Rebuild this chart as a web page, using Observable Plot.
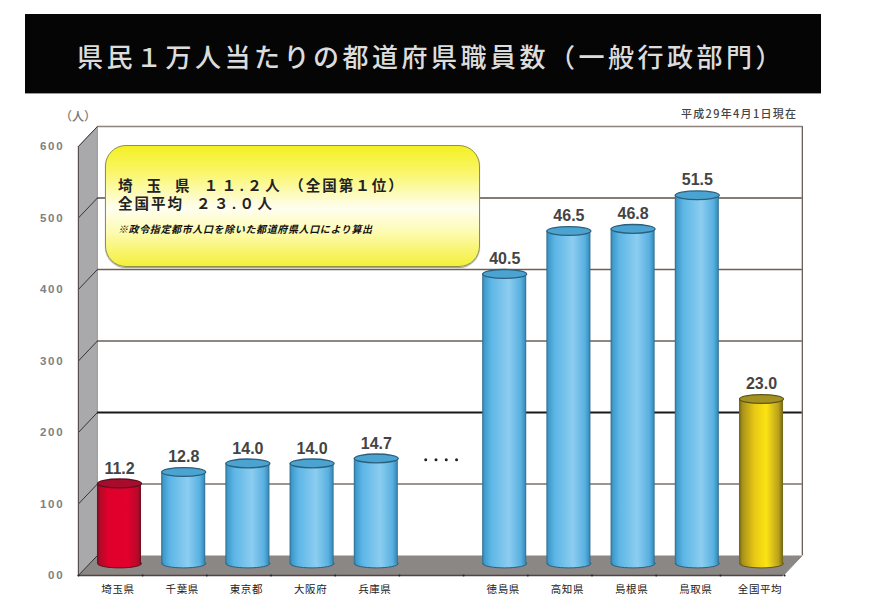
<!DOCTYPE html>
<html><head><meta charset="utf-8">
<script src="https://cdn.jsdelivr.net/npm/d3@7"></script>
<script src="https://cdn.jsdelivr.net/npm/@observablehq/plot@0.6"></script>
<style>
html,body{margin:0;padding:0;background:#fff;width:870px;height:612px;overflow:hidden;position:relative}
#title{position:absolute;left:25px;top:14px;width:796px;height:80px;background:#050505;border-bottom:1px solid #999;box-sizing:border-box;color:#dcdcdc;
 font:500 26px "Noto Sans CJK JP";letter-spacing:3.5px;padding-left:52px;line-height:84px;white-space:nowrap}
#chart{position:absolute;left:0;top:94px}
#note{position:absolute;left:105px;top:145px;width:375px;height:122px;box-sizing:border-box;border:1.5px solid #8f8f4a;border-radius:21px;
 background:linear-gradient(180deg,#f4f023 0%,#faf66a 22%,#fffef0 52%,#fdfbb0 72%,#f4ef3a 100%);box-shadow:0 1px 1px #999;font-family:"Noto Sans CJK JP";color:#222}
#note div{position:absolute;left:12px;white-space:pre}
.a{font-family:"Liberation Sans","Noto Sans CJK JP";font-weight:700;font-size:14.5px;letter-spacing:2px;line-height:18px}
.a span{letter-spacing:3.5px}
.b{font-weight:700;font-style:italic;font-size:10px;letter-spacing:.62px;color:#111}
#date{position:absolute;left:681px;top:105px;font:500 11px "Noto Sans CJK JP";letter-spacing:1.3px;color:#444;white-space:nowrap}
#unit{position:absolute;left:60px;top:107px;font:500 12px "Noto Sans CJK JP";color:#777}
text{font-family:"Liberation Sans"}
g[aria-label="y-axis tick label"] text{letter-spacing:1.8px;font-weight:700}
g[aria-label="x-axis tick label"] text{font-family:"Noto Sans CJK JP";letter-spacing:.6px}
</style></head><body>
<div id="title">県民１万人当たりの都道府県職員数（一般行政部門）</div>
<div id="chart"></div>
<div id="unit">（人）</div>
<div id="date">平成29年4月1日現在</div>
<div id="note">
<div class="a" style="top:31px">埼  玉  県  <span>１１.２人</span> （全国第１位）</div>
<div class="a" style="top:49px">全国平均  <span>２３.０人</span></div>
<div class="b" style="top:75px">※政令指定都市人口を除いた都道府県人口により算出</div>
</div>
<script>
const prefectures = ["埼玉県","千葉県","東京都","大阪府","兵庫県","徳島県","高知県","島根県","鳥取県","全国平均"];
const values      = [11.2,12.8,14.0,14.0,14.7,40.5,46.5,46.8,51.5,23.0];
const valueLabels = ["11.2","12.8","14.0","14.0","14.7","40.5","46.5","46.8","51.5","23.0"];
const slots       = [0,1,2,3,4,6,7,8,9,10];
const groups      = ["red","blue","blue","blue","blue","blue","blue","blue","blue","gold"];
const yTicks      = [0,10,20,30,40,50,60];
const ellipsisSlots = [4.77,4.93,5.09,5.25];
const gridStroke  = {10:"#7d7069",20:"#1c1816",30:"#6b5f58",40:"#6b5f58",50:"#5d514b",60:"#8d827c"};

const rows = prefectures.map((name,i)=>({name,value:values[i],label:valueLabels[i],slot:slots[i],group:groups[i]}));
const xL=-0.64, xR=10.34, depthX=0.296, depthY=2.8, topV=60;
const half=0.343, lift=-12;

const palettes = {
  blue:{stops:[["0%","#2d6a8a"],["5%","#3f9bcc"],["20%","#5db6e6"],["60%","#8ccdf0"],["88%","#58b0e0"],["96%","#3d93c2"],["100%","#2d6a8a"]],top:"#4aa3d0",edge:"#2b5f7c"},
  red:{stops:[["0%","#6a1020"],["6%","#b00a28"],["25%","#e0002c"],["70%","#e2002c"],["93%","#b50a2a"],["100%","#6a1020"]],top:"#a80c2c",edge:"#5e1020"},
  gold:{stops:[["0%","#6f6418"],["8%","#a8921a"],["35%","#e8c814"],["62%","#fbe414"],["90%","#b8a01c"],["100%","#6f6418"]],top:"#a39222",edge:"#5f5618"}
};
function defs(){
  const d=d3.create("svg:defs");
  for(const [k,p] of Object.entries(palettes)){
    const g=d.append("linearGradient").attr("id","cyl-"+k);
    p.stops.forEach(([o,c])=>g.append("stop").attr("offset",o).attr("stop-color",c));
  }
  return d.node();
}
const lens = {draw(ctx,size){
  const rx=Math.sqrt(size/Math.PI), ry=rx*0.2, k=0.5523;
  ctx.moveTo(-rx,0);
  ctx.bezierCurveTo(-rx,-ry*k,-rx*k,-ry,0,-ry);
  ctx.bezierCurveTo(rx*k,-ry,rx,-ry*k,rx,0);
  ctx.bezierCurveTo(rx,ry*k,rx*k,ry,0,ry);
  ctx.bezierCurveTo(-rx*k,ry,-rx,ry*k,-rx,0);
  ctx.closePath();
}};
const cyl = key => {
  const data = rows.filter(r=>r.group===key), p=palettes[key], fill=`url(#cyl-${key})`;
  return [
    Plot.dot(data,{x:"slot",y:()=>0,dy:lift,r:22,symbol:lens,fill,stroke:p.edge,strokeWidth:1}),
    Plot.rectY(data,{x1:d=>d.slot-half,x2:d=>d.slot+half,y1:()=>0,y2:"value",dy:lift,fill}),
    Plot.dot(data,{x:"slot",y:"value",dy:lift,r:22,symbol:lens,fill:p.top,stroke:p.edge,strokeWidth:1.3})
  ];
};
const side=[{x:xL,y:0},{x:xL+depthX,y:depthY},{x:xL+depthX,y:topV+depthY},{x:xL,y:topV}];
const floor=[{x:xL,y:0},{x:xR,y:0},{x:xR+depthX,y:depthY},{x:xL+depthX,y:depthY}];

const chart = Plot.plot({
  width:870,height:518,marginLeft:78,marginBottom:37,marginTop:0,marginRight:0,
  style:{background:"transparent",overflow:"visible"},
  x:{type:"linear",domain:[0,10],range:[119,761]},
  y:{domain:[0,60],range:[481,52]},
  marks:[
    defs,
    Plot.line(side,{x:"x",y:"y",fill:"#a9a9ac",stroke:"#8a8a8c",strokeWidth:.8}),
    Plot.line(floor,{x:"x",y:"y",fill:"#8b8785",stroke:null}),
    Plot.ruleY(yTicks.slice(1),{y:d=>d+depthY,x1:xL+depthX,x2:xR+depthX,stroke:d=>gridStroke[d],strokeWidth:d=>d===20?2:1.5}),
    Plot.ruleX([xR+depthX],{y1:depthY,y2:topV+depthY,stroke:"#6b5f58",strokeWidth:1.3}),
    Plot.link(yTicks,{x1:xL,x2:xL+depthX,y1:d=>d,y2:d=>d+depthY,stroke:"#3a3433",strokeWidth:1}),
    Plot.ruleX([xL],{y1:0,y2:topV,stroke:"#55504f",strokeWidth:1.2}),
    Plot.ruleY([0],{x1:xL,x2:xR,stroke:"#4d4644",strokeWidth:1.5}),
    Plot.link([xR],{x1:d=>d,x2:d=>d+depthX,y1:0,y2:depthY,stroke:"#8a8a8c"}),
    Plot.dot(d3.range(0,12).map(i=>xL+i),{x:d=>d,y:()=>0,r:1,fill:"#222"}),
    ...cyl("blue"),...cyl("red"),...cyl("gold"),
    Plot.text(rows,{x:"slot",y:"value",text:"label",dy:lift-15,fontSize:16,fontWeight:700,fill:"#444"}),
    Plot.dot(ellipsisSlots,{x:d=>d,y:()=>16.2,r:1.5,fill:"#222"}),
    Plot.axisY({ticks:yTicks,tickFormat:d=>d===0?"00":String(d*10),tickSize:0,tickPadding:14,fontSize:11.5,fill:"#808080",label:null}),
    Plot.axisX({ticks:slots,tickFormat:d=>prefectures[slots.indexOf(d)],tickSize:0,tickPadding:10,fontSize:10.5,fill:"#222",dx:-1.5,label:null})
  ]
});
document.getElementById("chart").append(chart);
</script></body></html>
